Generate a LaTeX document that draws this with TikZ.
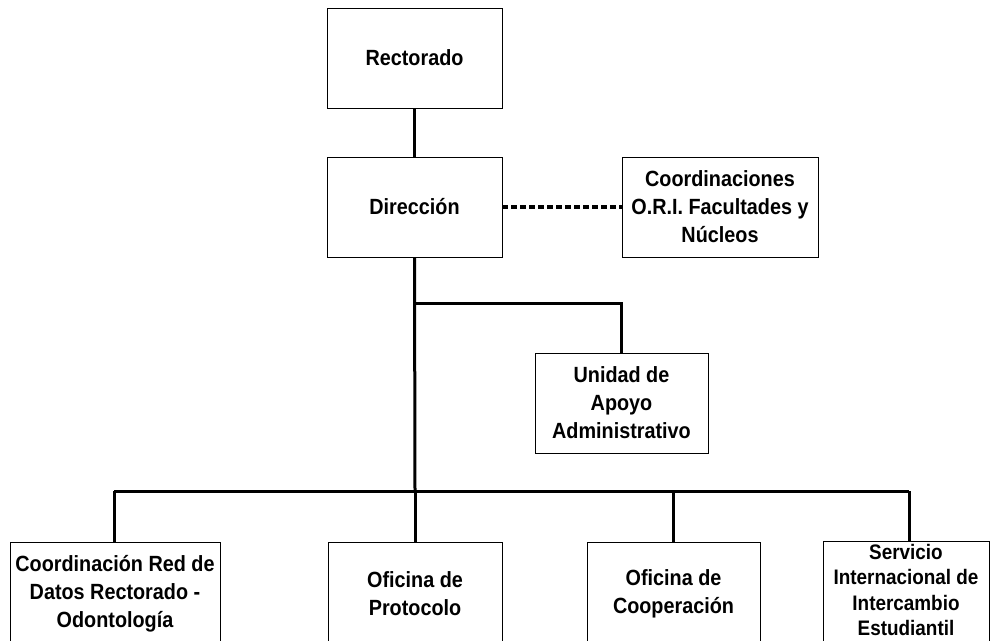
\documentclass[tikz,border=0pt]{standalone}
\usepackage{fontspec}
\setmainfont{Liberation Sans}[FakeStretch=0.9]
\begin{document}
\begin{tikzpicture}[x=1pt,y=-1pt,
  box/.style={draw=black,line width=0.9pt,rectangle,inner sep=0pt,align=center,
    font=\bfseries\fontsize{22}{28}\selectfont},
  conn/.style={line width=3pt},
  dotconn/.style={line width=3.5pt,dash pattern=on 6pt off 3pt}]
\useasboundingbox (0,0) rectangle (990,640);
\clip (0,0) rectangle (990,640);
\node[box,minimum width=175pt,minimum height=100pt] (rect) at (414.5,58) {Rectorado};
\node[box,minimum width=175pt,minimum height=100pt] (dir) at (414.5,207) {Dirección};
\node[box,minimum width=196pt,minimum height=100pt] (coord) at (720,207) {Coordinaciones\\O.R.I. Facultades y\\Núcleos};
\node[box,minimum width=173pt,minimum height=100pt] (uni) at (621.5,403) {Unidad de\\Apoyo\\Administrativo};
\node[box,minimum width=210pt,minimum height=104pt] (b1) at (115,594) {Coordinación Red de\\Datos Rectorado -\\Odontología};
\node[box,minimum width=174pt,minimum height=104pt] (b2) at (415,594) {Oficina de\\Protocolo};
\node[box,minimum width=173pt,minimum height=104pt] (b3) at (673.5,594) {Oficina de\\Cooperación};
\node[box,minimum width=166pt,minimum height=110pt] (b4) at (906,596) {};
\node[align=center,inner sep=0pt,font=\bfseries\fontsize{21}{25.5}\selectfont] (b4t) at (906,590) {Servicio\\Internacional de\\Intercambio\\Estudiantil};
\coordinate (j1) at (415,303);
\coordinate (busL) at (114,491);
\coordinate (busM) at (415,491);
\coordinate (busR) at (909,491);
\draw[conn] (rect.south) -- (dir.north);
\draw[dotconn] (dir.east) -- (coord.west);
\draw[conn] (dir.south) -- (busM);
\draw[conn] (j1) -| (uni.north);
\draw[conn] (busL) -- (busR);
\draw[conn] (busL) -- (busL |- b1.north);
\draw[conn] (busM) -- (b2.north);
\draw[conn] (b3.north |- busL) -- (b3.north);
\draw[conn] (busR) -- (busR |- b4.north);
\end{tikzpicture}
\end{document}
